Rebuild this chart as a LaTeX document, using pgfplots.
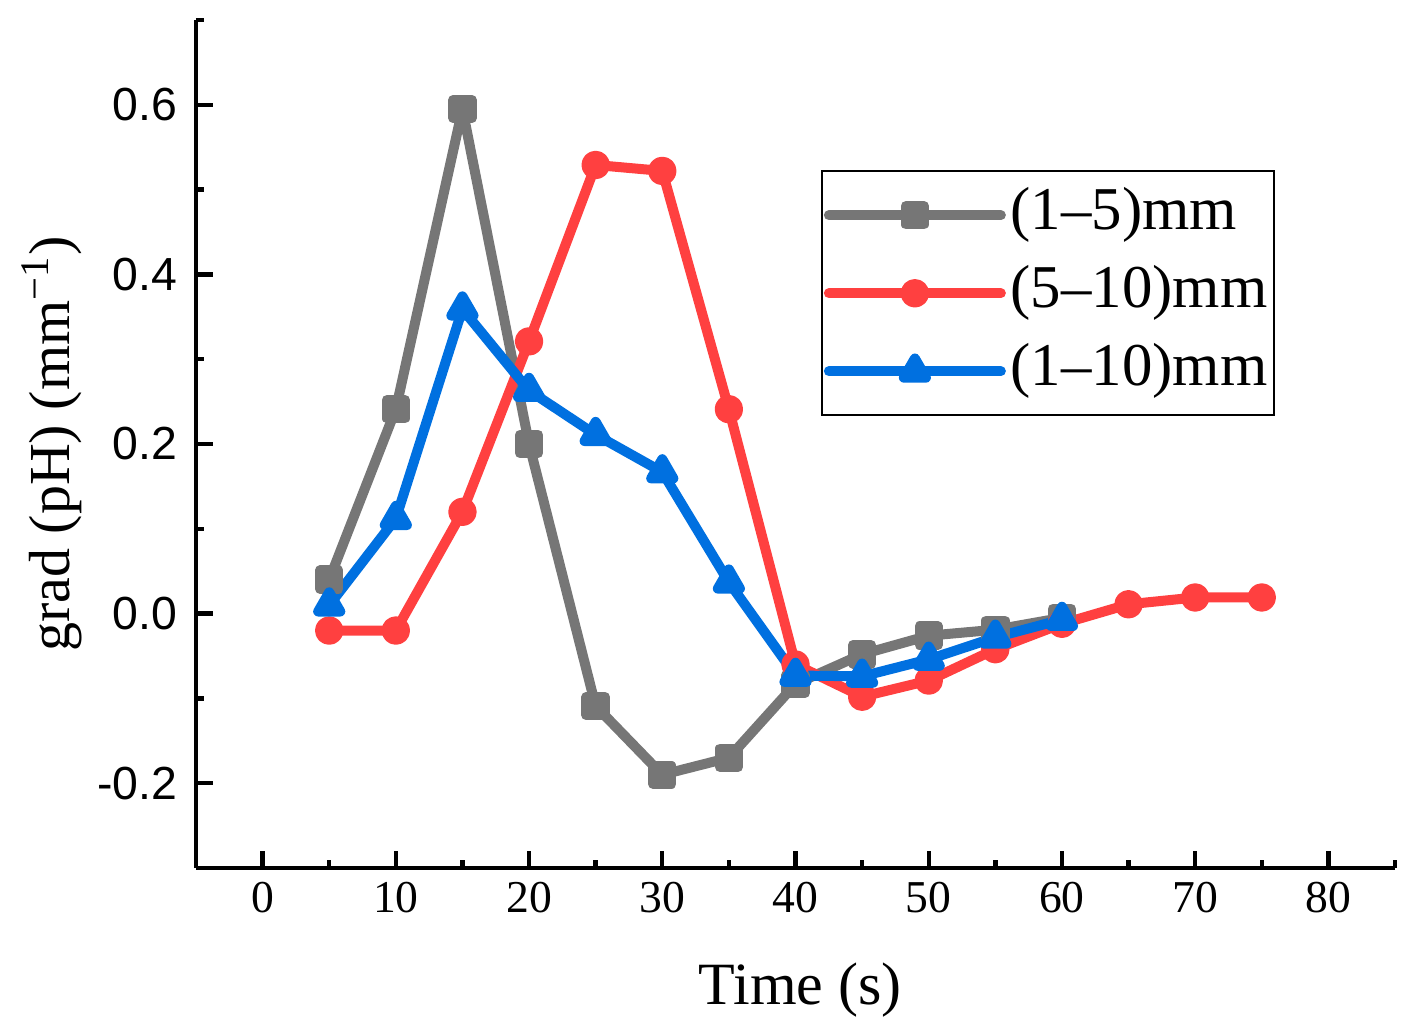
\documentclass[border=0pt]{standalone}
\usepackage{pgfplots}
\pgfplotsset{compat=1.18}
\usepackage{fontspec}
\setmainfont{Liberation Serif}
\setsansfont{Liberation Sans}

\definecolor{cgray}{RGB}{118,118,118}
\definecolor{cred}{RGB}{255,64,64}
\definecolor{cblue}{RGB}{0,112,224}

\begin{document}
\begin{tikzpicture}
\begin{axis}[
    name=ax,
    scale only axis,
    width=299.75pt, height=212pt,
    xmin=-5, xmax=85,
    ymin=-0.3, ymax=0.7,
    axis x line*=bottom,
    axis y line*=left,
    axis line style={-, line width=1.1pt},
    tick align=inside,
    major tick length=4.2pt,
    minor tick length=2.1pt,
    every tick/.style={black, line width=1.1pt},
    xtick={0,10,...,80},
    minor xtick={5,15,25,35,45,55,65,75,85},
    ytick={-0.2,0,0.2,0.4,0.6},
    yticklabels={-0.2,0.0,0.2,0.4,0.6},
    minor ytick={-0.1,0.1,0.3,0.5,0.7},
    xticklabel style={font=\fontsize{11.4}{13}\selectfont},
    yticklabel style={font=\sffamily\fontsize{11.6}{13}\selectfont, xshift=-1.2pt},
    /pgf/number format/assume math mode=true,
    xlabel={Time (s)},
    xlabel style={font=\fontsize{15}{18}\selectfont, at={(axis description cs:0.504,-0.144)}, anchor=center},
    ylabel={grad (pH) (mm\textsuperscript{−1})},
    ylabel style={font=\fontsize{14.5}{17}\selectfont, at={(axis description cs:-0.120,0.5)}, anchor=center, rotate=0},
    every axis plot/.append style={line width=2.5pt, line join=round, line cap=round},
    legend image code/.code={\draw[mark repeat=2, mark phase=2, #1] plot coordinates {(0pt,0pt) (21.5pt,0pt) (43pt,0pt)};},
    legend style={at={(rel axis cs:0.521,0.823)}, anchor=north west, draw=black, line width=0.6pt,
        font=\fontsize{15.2}{17}\selectfont, inner xsep=0.5pt, inner ysep=3pt,
        nodes={inner xsep=1.2pt, inner ysep=1pt, text height=10.5pt, text depth=3.5pt},
        row sep=3.5pt, cells={anchor=west}},
]
\addplot[color=cgray, mark=square*, mark size=2.3pt, mark options={solid, fill=cgray}] coordinates {
    (5,0.04) (10,0.241) (15,0.595) (20,0.20) (25,-0.109) (30,-0.19) (35,-0.17)
    (40,-0.083) (45,-0.048) (50,-0.026) (55,-0.019) (60,-0.005)
};
\addlegendentry{(1–5)mm}
\addplot[color=cred, mark=*, mark size=2.3pt, mark options={solid, fill=cred}] coordinates {
    (5,-0.02) (10,-0.02) (15,0.12) (20,0.321) (25,0.529) (30,0.522) (35,0.241)
    (40,-0.06) (45,-0.098) (50,-0.079) (55,-0.042) (60,-0.012) (65,0.011) (70,0.019) (75,0.019)
};
\addlegendentry{(5–10)mm}
\addplot[color=cblue, mark=triangle*, mark size=3.2pt, mark options={solid, fill=cblue}] coordinates {
    (5,0.01) (10,0.112) (15,0.359) (20,0.263) (25,0.211) (30,0.167) (35,0.037)
    (40,-0.073) (45,-0.074) (50,-0.054) (55,-0.028) (60,-0.007)
};
\addlegendentry{(1–10)mm}
\end{axis}
\pgfresetboundingbox
\path ([shift={(-49pt,-40.5pt)}]ax.south west) rectangle ([shift={(3.5pt,5pt)}]ax.north east);
\end{tikzpicture}
\end{document}
